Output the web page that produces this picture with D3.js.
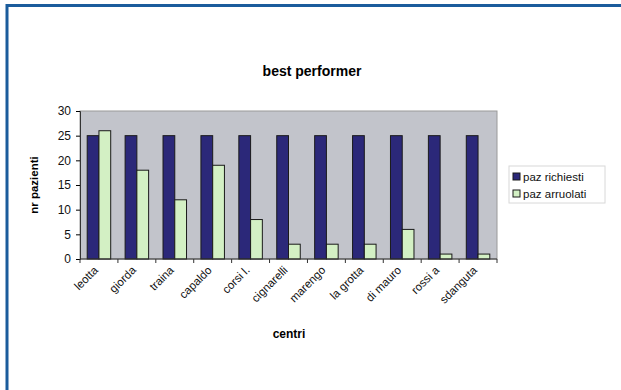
<!DOCTYPE html>
<html>
<head>
<meta charset="utf-8">
<script src="https://cdn.jsdelivr.net/npm/d3@7"></script>
<style>
  html, body { margin: 0; padding: 0; background: #fff; }
  svg { display: block; font-family: "Liberation Sans", Arial, sans-serif; }
</style>
</head>
<body>
<svg id="chart" width="621" height="390"></svg>
<script>
// Centres and patient counts
const centri = ["leotta", "giorda", "traina", "capaldo", "corsi l.", "cignarelli", "marengo", "la grotta", "di mauro", "rossi a", "sdanguta"];
const pazRichiesti = [25, 25, 25, 25, 25, 25, 25, 25, 25, 25, 25];
const pazArruolati = [26, 18, 12, 19, 8, 3, 3, 3, 6, 1, 1];
const seriesNames = ["paz richiesti", "paz arruolati"];
const yTicks = [0, 5, 10, 15, 20, 25, 30];

const colors = ["#2b2879", "#d3f0c4"];

const svg = d3.select("#chart");

// outer frame
svg.append("path")
  .attr("d", "M7,400 L7,5.5 L630,5.5")
  .attr("fill", "none")
  .attr("stroke", "#1b5c9c")
  .attr("stroke-width", 3);

const plot = { left: 80, top: 111, right: 497, bottom: 259 };

const x = d3.scaleBand().domain(centri).range([plot.left, plot.right]).paddingInner(0.38).paddingOuter(0.19);
const xs = d3.scaleBand().domain([0, 1]).range([0, x.bandwidth()]);
const y = d3.scaleLinear().domain([0, 30]).range([plot.bottom, plot.top]);

// plot area
svg.append("rect")
  .attr("x", plot.left).attr("y", plot.top)
  .attr("width", plot.right - plot.left).attr("height", plot.bottom - plot.top)
  .attr("fill", "#c2c4cb")
  .attr("stroke", "#9a9a9a").attr("stroke-width", 1);

// title
svg.append("text")
  .attr("x", 312).attr("y", 76)
  .attr("text-anchor", "middle")
  .attr("font-size", 14).attr("font-weight", "bold")
  .text("best performer");

// bars
const groups = [pazRichiesti, pazArruolati];
groups.forEach((vals, si) => {
  svg.append("g").selectAll("rect")
    .data(vals)
    .join("rect")
    .attr("x", (d, i) => x(centri[i]) + xs(si))
    .attr("y", d => y(d))
    .attr("width", xs.bandwidth())
    .attr("height", d => y(0) - y(d))
    .attr("fill", colors[si])
    .attr("stroke", "#1a1a1a")
    .attr("stroke-width", 1);
});

// y axis
const yAxis = svg.append("g")
  .attr("transform", `translate(${plot.left},0)`)
  .call(d3.axisLeft(y).tickValues(yTicks).tickSize(4).tickPadding(5));
yAxis.select(".domain").attr("stroke", "#333");
yAxis.selectAll("text").attr("font-size", 12).attr("fill", "#111").attr("font-family", "Liberation Sans, Arial, sans-serif");

// x axis with separator ticks between categories
const xAxis = svg.append("g")
  .attr("transform", `translate(0,${plot.bottom})`);
xAxis.append("line")
  .attr("x1", plot.left).attr("x2", plot.right)
  .attr("stroke", "#333");
const seps = d3.range(centri.length + 1).map(i => plot.left + (plot.right - plot.left) * i / centri.length);
xAxis.selectAll("line.sep")
  .data(seps)
  .join("line")
  .attr("class", "sep")
  .attr("x1", d => d).attr("x2", d => d)
  .attr("y1", 0).attr("y2", 4)
  .attr("stroke", "#333");

xAxis.selectAll("text.lbl")
  .data(centri)
  .join("text")
  .attr("class", "lbl")
  .attr("transform", d => `translate(${x(d) + x.bandwidth() / 2 - 3},${9}) rotate(-45)`)
  .attr("text-anchor", "end")
  .attr("dy", "0.35em")
  .attr("font-size", 11.5)
  .attr("fill", "#111")
  .text(d => d);

// axis titles
svg.append("text")
  .attr("transform", `translate(38,${(plot.top + plot.bottom) / 2}) rotate(-90)`)
  .attr("text-anchor", "middle")
  .attr("font-size", 11.5).attr("font-weight", "bold")
  .text("nr pazienti");

svg.append("text")
  .attr("x", 289).attr("y", 338)
  .attr("text-anchor", "middle")
  .attr("font-size", 12).attr("font-weight", "bold")
  .text("centri");

// legend
const lg = svg.append("g").attr("transform", "translate(509,166)");
lg.append("rect")
  .attr("width", 96).attr("height", 37)
  .attr("fill", "#fff").attr("stroke", "#d8d8d8");
seriesNames.forEach((name, i) => {
  const row = lg.append("g").attr("transform", `translate(4,${11 + i * 17})`);
  row.append("rect")
    .attr("x", 0).attr("y", -4).attr("width", 7).attr("height", 7)
    .attr("fill", colors[i]).attr("stroke", "#1a1a1a");
  row.append("text")
    .attr("x", 10).attr("y", 0).attr("dy", "0.35em")
    .attr("font-size", 11.5).attr("fill", "#111")
    .text(name);
});
</script>
</body>
</html>
